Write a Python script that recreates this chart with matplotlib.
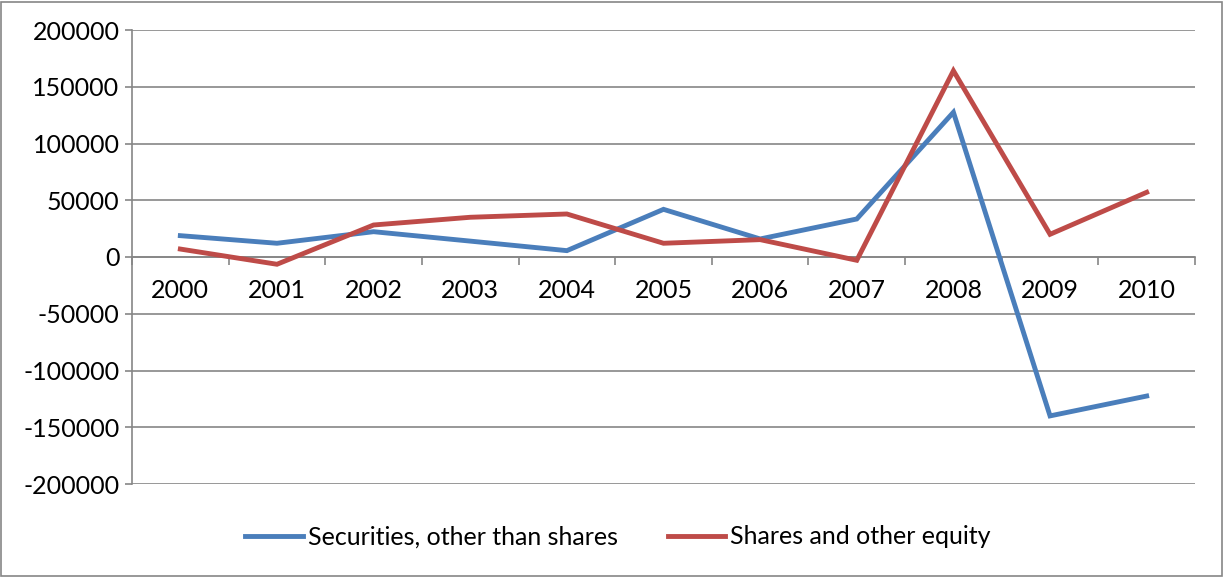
import matplotlib
matplotlib.use("Agg")
import matplotlib.pyplot as plt
from matplotlib.patches import Rectangle
import numpy as np

years = ["2000", "2001", "2002", "2003", "2004", "2005",
         "2006", "2007", "2008", "2009", "2010"]
securities = [18800, 12100, 22300, 14000, 5600, 42000,
              15900, 33500, 127500, -140000, -122500]
shares = [7000, -6400, 28200, 35000, 37900, 12100,
          15300, -2900, 164100, 20000, 57000]
y_ticks = [200000, 150000, 100000, 50000, 0, -50000, -100000, -150000, -200000]

plt.rcParams["font.family"] = ["Lato", "DejaVu Sans"]
FS = 18
GRID = "#868686"

fig = plt.figure(figsize=(12.24, 5.77), dpi=100)
ax = fig.add_axes([132 / 1224, 1 - 484 / 577, (1195 - 132) / 1224, (484 - 30) / 577])

x = np.arange(len(years))
ax.plot(x, securities, color="#4A7EBB", lw=3.5, solid_joinstyle="miter",
        label="Securities, other than shares", zorder=3)
ax.plot(x, shares, color="#BE4B48", lw=3.5, solid_joinstyle="miter",
        label="Shares and other equity", zorder=3)

ax.set_xlim(-0.5, len(years) - 0.5)
ax.set_ylim(min(y_ticks), max(y_ticks))
ax.set_yticks(y_ticks)
ax.set_yticklabels([str(v) for v in y_ticks], fontsize=FS)
ax.yaxis.grid(True, color=GRID, lw=1.2)
ax.set_axisbelow(True)
ax.tick_params(axis="y", length=5, width=1.2, color=GRID, pad=4)

# Category axis crossing at zero, tick marks between categories
ax.spines["bottom"].set_position(("data", 0))
ax.spines["bottom"].set_color(GRID)
ax.spines["bottom"].set_linewidth(1.2)
ax.set_xticks(x)
ax.set_xticklabels(years, fontsize=FS)
ax.set_xticks(np.arange(-0.5, len(years), 1.0), minor=True)
ax.tick_params(axis="x", which="major", length=0, pad=16)
ax.tick_params(axis="x", which="minor", length=6, width=1.2, color=GRID, direction="out")

ax.spines["left"].set_color(GRID)
ax.spines["left"].set_linewidth(1.2)
ax.spines["top"].set_visible(False)
ax.spines["right"].set_visible(False)

fig.legend(loc="center", bbox_to_anchor=(0.505, 1 - 537 / 577), ncol=2,
           frameon=False, fontsize=FS, handlelength=2.3, handletextpad=0.2,
           columnspacing=2.0)

fig.patches.append(Rectangle((0.001, 0.002), 0.997, 0.995, transform=fig.transFigure,
                             fill=False, edgecolor=GRID, lw=1.2))

fig.savefig("out.png", dpi=100)
